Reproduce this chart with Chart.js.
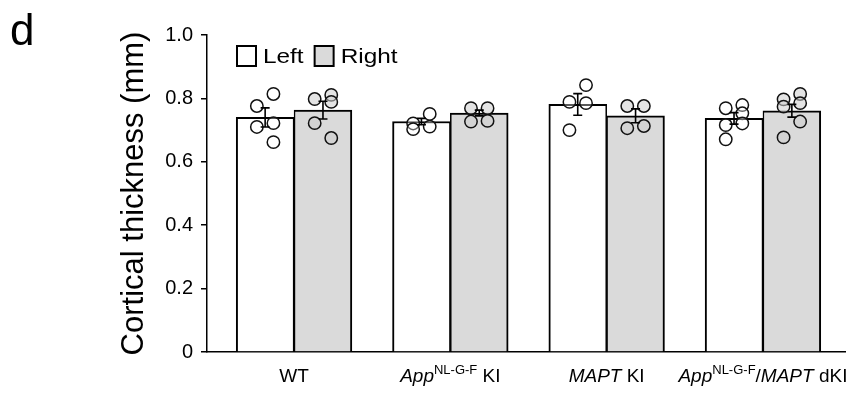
<!DOCTYPE html>
<html>
<head>
<meta charset="utf-8">
<script src="https://cdn.jsdelivr.net/npm/chart.js@4.4.1/dist/chart.umd.min.js"></script>
<style>
  html, body { margin: 0; padding: 0; background: #fff; }
  canvas { display: block; }
</style>
</head>
<body>
<canvas id="chart" width="867" height="393"></canvas>
<script>
// ---- data -------------------------------------------------------------
const panelLetter = 'd';
const seriesNames = ['Left', 'Right'];

// genotype labels, split into styled runs (italic gene names, superscript alleles)
const categories = [
  [{ text: 'WT' }],
  [{ text: 'App', italic: true }, { text: 'NL-G-F', sup: true }, { text: ' KI' }],
  [{ text: 'MAPT', italic: true }, { text: ' KI' }],
  [{ text: 'App', italic: true }, { text: 'NL-G-F', sup: true }, { text: '/' },
   { text: 'MAPT', italic: true }, { text: ' dKI' }]
];

// mean cortical thickness (mm)
const leftMeans  = [0.740, 0.727, 0.781, 0.737];
const rightMeans = [0.763, 0.754, 0.745, 0.761];

// standard error of the mean
const leftSem  = [0.030, 0.010, 0.034, 0.018];
const rightSem = [0.028, 0.009, 0.022, 0.020];

// individual animals (listed so that they alternate right/left of the bar centre)
const leftPoints = [
  [0.814, 0.776, 0.722, 0.710, 0.662],
  [0.751, 0.721, 0.711, 0.703],
  [0.842, 0.789, 0.785, 0.700],
  [0.779, 0.769, 0.753, 0.716, 0.721, 0.671]
];
const rightPoints = [
  [0.811, 0.798, 0.789, 0.722, 0.675],
  [0.769, 0.769, 0.729, 0.727],
  [0.776, 0.776, 0.713, 0.706],
  [0.814, 0.797, 0.785, 0.774, 0.727, 0.677]
];

const yTickValues = [0, 0.2, 0.4, 0.6, 0.8, 1.0];
const yTickLabels = ['0', '0.2', '0.4', '0.6', '0.8', '1.0'];

// ---- layout / style constants -----------------------------------------
const FONT = "'Liberation Sans', Arial, Helvetica, sans-serif";
const BAR_W = 0.37;          // bar width in category units
const JITTER = 0.053;        // horizontal spread of the dots
const LEFT_FILL = '#ffffff';
const RIGHT_FILL = '#dadada';

const barX = (i, side) => i + (side === 0 ? -BAR_W / 2 : BAR_W / 2);

const barData = (means, side) => means.map((v, i) => ({ x: barX(i, side), y: v }));
const dotData = (groups, side) => {
  const out = [];
  groups.forEach((vals, i) => {
    vals.forEach((v, j) => {
      out.push({ x: barX(i, side) + (j % 2 === 0 ? JITTER : -JITTER), y: v });
    });
  });
  return out;
};

// ---- plugins ----------------------------------------------------------
const errorBars = {
  id: 'errorBars',
  afterDatasetsDraw(chart) {
    const ctx = chart.ctx, ys = chart.scales.y, cap = 4.5;
    ctx.save();
    ctx.strokeStyle = '#000';
    ctx.lineWidth = 1.6;
    [[0, leftMeans, leftSem], [1, rightMeans, rightSem]].forEach(([di, means, sems]) => {
      chart.getDatasetMeta(di).data.forEach((bar, i) => {
        const x = bar.x;
        const yt = ys.getPixelForValue(means[i] + sems[i]);
        const yb = ys.getPixelForValue(means[i] - sems[i]);
        ctx.beginPath();
        ctx.moveTo(x, yt); ctx.lineTo(x, yb);
        ctx.moveTo(x - cap, yt); ctx.lineTo(x + cap, yt);
        ctx.moveTo(x - cap, yb); ctx.lineTo(x + cap, yb);
        ctx.stroke();
      });
    });
    ctx.restore();
  }
};

const categoryLabels = {
  id: 'categoryLabels',
  afterDraw(chart) {
    const ctx = chart.ctx, xs = chart.scales.x;
    const base = chart.chartArea.bottom + 30;
    const fontFor = r => (r.italic ? 'italic ' : '') + (r.sup ? 13 : 19) + 'px ' + FONT;
    ctx.save();
    ctx.fillStyle = '#000';
    ctx.textBaseline = 'alphabetic';
    ctx.textAlign = 'left';
    categories.forEach((runs, i) => {
      let total = 0;
      const widths = runs.map(r => { ctx.font = fontFor(r); const w = ctx.measureText(r.text).width; total += w; return w; });
      let x = xs.getPixelForValue(i) - total / 2;
      runs.forEach((r, k) => {
        ctx.font = fontFor(r);
        ctx.fillText(r.text, x, r.sup ? base - 8 : base);
        x += widths[k];
      });
    });
    ctx.restore();
  }
};

const boxLegend = {
  id: 'boxLegend',
  afterDraw(chart) {
    const ctx = chart.ctx;
    const fills = [LEFT_FILL, RIGHT_FILL];
    const stretch = 1.16;        // legend lettering is set slightly wide
    let x = 237;
    const top = 46, size = 19;
    ctx.save();
    ctx.font = '21px ' + FONT;
    ctx.textBaseline = 'alphabetic';
    seriesNames.forEach((name, i) => {
      ctx.fillStyle = fills[i];
      ctx.fillRect(x, top, size, size + 1);
      ctx.strokeStyle = '#000';
      ctx.lineWidth = 2;
      ctx.strokeRect(x, top, size, size + 1);
      ctx.fillStyle = '#000';
      const tx = x + size + 7;
      ctx.save();
      ctx.translate(tx, top + 17);
      ctx.scale(stretch, 1);
      ctx.fillText(name, 0, 0);
      ctx.restore();
      x = tx + ctx.measureText(name).width * stretch + 11;
    });
    // panel letter
    ctx.fillStyle = '#000';
    ctx.font = '44px ' + FONT;
    ctx.fillText(panelLetter, 10, 45);
    ctx.restore();
  }
};

// ---- chart ------------------------------------------------------------
new Chart(document.getElementById('chart'), {
  type: 'bar',
  data: {
    datasets: [
      {
        label: seriesNames[0], data: barData(leftMeans, 0), order: 1,
        backgroundColor: LEFT_FILL, borderColor: '#000',
        borderWidth: { top: 2, left: 2, right: 1.5, bottom: 0 },
        grouped: false, barPercentage: 1, categoryPercentage: 1
      },
      {
        label: seriesNames[1], data: barData(rightMeans, 1), order: 1,
        backgroundColor: RIGHT_FILL, borderColor: '#000',
        borderWidth: { top: 2, left: 1.5, right: 2, bottom: 0 },
        grouped: false, barPercentage: 1, categoryPercentage: 1
      },
      {
        type: 'scatter', label: seriesNames[0] + ' animals', data: dotData(leftPoints, 0), order: 0,
        pointRadius: 6.2, pointBorderWidth: 1.5, borderColor: '#111',
        backgroundColor: 'rgba(255,255,255,0.35)'
      },
      {
        type: 'scatter', label: seriesNames[1] + ' animals', data: dotData(rightPoints, 1), order: 0,
        pointRadius: 6.2, pointBorderWidth: 1.5, borderColor: '#111',
        backgroundColor: 'rgba(205,205,205,0.55)'
      }
    ]
  },
  options: {
    responsive: false,
    animation: false,
    devicePixelRatio: 1,
    layout: { padding: { left: 112, top: 35, right: 22, bottom: 0 } },
    plugins: { legend: { display: false }, tooltip: { enabled: false } },
    scales: {
      x: {
        type: 'linear',
        offset: false,
        min: -0.557, max: 3.525,
        afterBuildTicks: s => { s.ticks = s.ticks.filter(t => Math.abs(t.value - Math.round(t.value)) < 1e-6); },
        afterFit: s => { s.height = 41; },
        ticks: { display: false, stepSize: 1 },
        grid: { display: true, drawOnChartArea: false, drawTicks: false, offset: false },
        border: { display: true, color: '#000', width: 1.5 }
      },
      y: {
        min: 0, max: 1,
        afterBuildTicks: s => { s.ticks = yTickValues.map(v => ({ value: v })); },
        afterFit: s => { s.width = 95; },
        ticks: {
          color: '#000', padding: 8,
          font: { family: FONT, size: 20 },
          callback: (v, i) => yTickLabels[i]
        },
        grid: { drawOnChartArea: false, drawTicks: true, tickLength: 6, color: '#000', lineWidth: 1.5 },
        border: { display: true, color: '#000', width: 1.5 },
        title: {
          display: true, text: 'Cortical thickness (mm)', color: '#000',
          font: { family: FONT, size: 31 }, padding: 4
        }
      }
    }
  },
  plugins: [errorBars, categoryLabels, boxLegend]
});
</script>
</body>
</html>
